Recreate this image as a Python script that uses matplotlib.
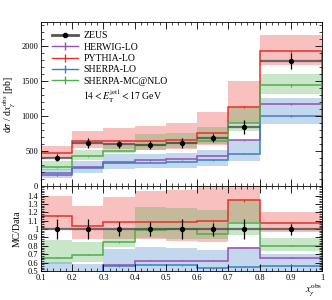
import numpy as np
import matplotlib
matplotlib.use("Agg")
import matplotlib.pyplot as plt
from matplotlib.ticker import MultipleLocator, FixedLocator

plt.rcParams['font.family'] = ['Liberation Serif', 'DejaVu Serif']
plt.rcParams['mathtext.fontset'] = 'stix'

edges = [0.1, 0.2, 0.3, 0.4, 0.5, 0.6, 0.7, 0.8, 1.0]
data = [405, 610, 595, 585, 610, 686, 838, 1786]
data_err = [49, 73, 48, 50, 73, 53, 98, 115]

herwig = [150, 272, 340, 365, 380, 428, 654, 1176]
pythia = [468, 635, 645, 635, 660, 755, 1125, 1922]
pythia_lo = [405, 540, 524, 515, 525, 583, 905, 1729]
pythia_hi = [565, 780, 826, 852, 897, 1050, 1505, 2157]
sherpa = [180, 258, 330, 335, 345, 365, 462, 1003]
sherpa_lo = [115, 183, 240, 252, 258, 290, 350, 880]
sherpa_hi = [245, 355, 455, 462, 470, 515, 660, 1255]
mcnlo = [267, 423, 506, 579, 610, 645, 900, 1436]
mcnlo_lo = [235, 368, 470, 520, 540, 605, 780, 1310]
mcnlo_hi = [350, 518, 598, 740, 762, 840, 1130, 1600]

c_herwig = '#9a4fb0'
c_pythia = '#e8302a'
c_sherpa = '#3b7dc4'
c_mcnlo = '#4daf4a'

edges = np.array(edges)
centers = 0.5 * (edges[1:] + edges[:-1])
halfw = 0.5 * (edges[1:] - edges[:-1])
d = np.array(data, float)

fig = plt.figure(figsize=(3.32, 3.0), dpi=100)
ax = fig.add_axes([0.1235, 0.38, 0.8465, 0.5467])
rx = fig.add_axes([0.1235, 0.0967, 0.8465, 0.2833], sharex=ax)

def draw(a, scale):
    s = np.array(scale, float)
    bands = [(pythia_lo, pythia_hi, c_pythia), (mcnlo_lo, mcnlo_hi, c_mcnlo),
             (sherpa_lo, sherpa_hi, c_sherpa)]
    for lo, hi, c in bands:
        a.stairs(np.array(hi) / s, edges, baseline=np.array(lo) / s, fill=True,
                 color=c, alpha=0.3, lw=0)
    for vals, c in [(herwig, c_herwig), (pythia, c_pythia), (sherpa, c_sherpa), (mcnlo, c_mcnlo)]:
        v = np.array(vals, float) / s
        a.stairs(v, edges, color=c, lw=1.1)
        a.errorbar(centers, v, yerr=0.012 * v, fmt='none', ecolor=c, elinewidth=0.8)
    a.errorbar(centers, d / s, xerr=halfw, fmt='none', ecolor='#444444', elinewidth=1.6, alpha=0.75)
    a.errorbar(centers, d / s, yerr=np.array(data_err) / s, fmt='o', color='black',
               ms=2.8, elinewidth=0.9, capsize=0)

draw(ax, np.ones(8))
draw(rx, d)

# legend proxies
from matplotlib.lines import Line2D
h = [Line2D([], [], color='#555555', lw=2, marker='o', mfc='black', mec='black', ms=3),
     Line2D([], [], color=c_herwig, lw=1, marker='|', ms=6),
     Line2D([], [], color=c_pythia, lw=1, marker='|', ms=6),
     Line2D([], [], color=c_sherpa, lw=1, marker='|', ms=6),
     Line2D([], [], color=c_mcnlo, lw=1, marker='|', ms=6)]
labels = ['ZEUS', 'HERWIG-LO', 'PYTHIA-LO', 'SHERPA-LO', 'SHERPA-MC@NLO']
leg = ax.legend(h, labels, loc='upper left', bbox_to_anchor=(0.02, 0.98), frameon=False,
                fontsize=7, handlelength=2.6, handletextpad=0.6, labelspacing=0.25,
                borderaxespad=0.2)
ax.text(0.148, 0.545, r'$14 < E_{\mathrm{T}}^{\mathrm{jet1}} < 17$ GeV', transform=ax.transAxes,
        fontsize=7, va='center')

ax.set_xlim(0.1, 1.0)
ax.set_ylim(0, 2340)
ax.yaxis.set_major_locator(FixedLocator([0, 500, 1000, 1500, 2000]))
ax.yaxis.set_minor_locator(MultipleLocator(100))
ax.xaxis.set_major_locator(MultipleLocator(0.1))
ax.xaxis.set_minor_locator(MultipleLocator(0.02))
ax.tick_params(labelbottom=False)
ax.set_ylabel(r'd$\sigma$ / d$x_{\gamma}^{\mathrm{obs}}$ [pb]', fontsize=7, labelpad=2)

rx.set_ylim(0.5, 1.515)
rx.yaxis.set_major_locator(FixedLocator([0.5, 0.6, 0.7, 0.8, 0.9, 1.0, 1.1, 1.2, 1.3, 1.4]))
rx.yaxis.set_minor_locator(MultipleLocator(0.02))
rx.set_yticklabels(['0.5', '0.6', '0.7', '0.8', '0.9', '1', '1.1', '1.2', '1.3', '1.4'])
rx.set_xticks([0.1, 0.2, 0.3, 0.4, 0.5, 0.6, 0.7, 0.8, 0.9, 1.0])
rx.set_xticklabels(['0.1', '0.2', '0.3', '0.4', '0.5', '0.6', '0.7', '0.8', '0.9', '1'])
rx.set_ylabel('MC/Data', fontsize=7, labelpad=4)
rx.set_xlabel(r'$x_{\gamma}^{\mathrm{obs}}$', fontsize=7.5, loc='right', labelpad=0)

for a in (ax, rx):
    a.tick_params(which='both', direction='in', top=True, right=True, labelsize=6, pad=2)
    a.tick_params(which='major', length=5, width=0.6)
    a.tick_params(which='minor', length=2.5, width=0.5)
    for s in a.spines.values():
        s.set_linewidth(0.6)

fig.savefig('out.png', dpi=100)
